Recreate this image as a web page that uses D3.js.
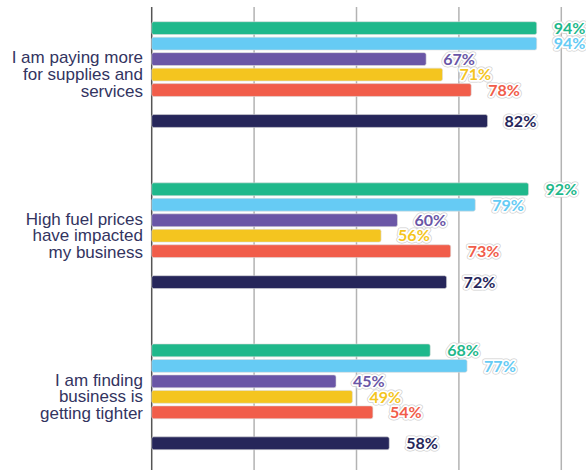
<!DOCTYPE html>
<html>
<head>
<meta charset="utf-8">
<script src="https://cdn.jsdelivr.net/npm/d3@7"></script>
<style>
  body { margin: 0; background: #fff; }
</style>
</head>
<body>
<div class="chart"></div>
<script>
var width = 586;
var height = 470;

// statements (y groups), each split into lines
var categories = [
  ["I am paying more", "for supplies and", "services"],
  ["High fuel prices", "have impacted", "my business"],
  ["I am finding", "business is", "getting tighter"]
];

// series shown in each group, top to bottom (slot 5 is left empty)
var seriesKeys = ["s1", "s2", "s3", "s4", "s5", "total"];
var seriesSlots = [0, 1, 2, 3, 4, 6];
var seriesColors = ["#1fb88b", "#66cbf4", "#6a56a6", "#f4c51f", "#f15d4a", "#26265a"];

var s1 = [94, 92, 68];
var s2 = [94, 79, 77];
var s3 = [67, 60, 45];
var s4 = [71, 56, 49];
var s5 = [78, 73, 54];
var total = [82, 72, 58];
var seriesValues = [s1, s2, s3, s4, s5, total];

var xTicks = [0, 25, 50, 75, 100];

var svg = d3.select(".chart").append("svg")
    .attr("width", width)
    .attr("height", height);

var x = d3.scaleLinear()
    .domain([0, 100])
    .range([151.7, 561.3]);

var y = d3.scaleBand()
    .domain(d3.range(categories.length))
    .range([21.7, 449.7])
    .paddingInner(0.344);

var ySlot = d3.scaleBand()
    .domain(d3.range(7))
    .range([0, y.bandwidth()])
    .paddingInner(0.17);

// gridlines
svg.append("g")
  .selectAll("line")
  .data(xTicks)
  .enter().append("line")
    .attr("x1", function(d) { return x(d); })
    .attr("x2", function(d) { return x(d); })
    .attr("y1", 7)
    .attr("y2", height)
    .attr("stroke", function(d) { return d === 0 ? "#555" : "#b3b3b3"; })
    .attr("stroke-width", 1.5);

// flatten to one record per bar
var bars = [];
categories.forEach(function(c, i) {
  seriesKeys.forEach(function(k, j) {
    bars.push({group: i, key: k, slot: seriesSlots[j], color: seriesColors[j], value: seriesValues[j][i]});
  });
});

svg.append("g")
  .selectAll("rect")
  .data(bars)
  .enter().append("rect")
    .attr("x", x(0))
    .attr("y", function(d) { return y(d.group) + ySlot(d.slot); })
    .attr("width", function(d) { return x(d.value) - x(0); })
    .attr("height", ySlot.bandwidth())
    .attr("rx", 2)
    .attr("fill", function(d) { return d.color; })
    .attr("stroke", "#dcdcdc")
    .attr("stroke-width", 0.6);

// value labels with halo
var labels = svg.append("g")
  .selectAll("g")
  .data(bars)
  .enter().append("g")
    .attr("transform", function(d) {
      return "translate(" + (x(d.value) + 17) + "," + (y(d.group) + ySlot(d.slot) + ySlot.bandwidth() / 2) + ")";
    });

labels.append("text")
    .attr("dy", "0.36em")
    .style("font", "bold 16px Lato, sans-serif")
    .attr("fill", "#fff")
    .attr("stroke", "#d0d0d0")
    .attr("stroke-width", 5)
    .attr("stroke-linejoin", "round")
    .text(function(d) { return d.value + "%"; });

labels.append("text")
    .attr("dy", "0.36em")
    .style("font", "bold 16px Lato, sans-serif")
    .attr("fill", function(d) { return d.color; })
    .attr("stroke", "#fff")
    .attr("stroke-width", 3.5)
    .attr("stroke-linejoin", "round")
    .attr("paint-order", "stroke")
    .text(function(d) { return d.value + "%"; });

// category labels
var cat = svg.append("g")
  .selectAll("text")
  .data(categories)
  .enter().append("text")
    .attr("x", 143)
    .attr("y", function(d, i) { return y(i) + y.bandwidth() / 2 - 11.1; })
    .attr("text-anchor", "end")
    .attr("fill", "#33345f")
    .style("font", "17px 'Liberation Sans', Arial, sans-serif");

cat.selectAll("tspan")
  .data(function(d) { return d; })
  .enter().append("tspan")
    .attr("x", 143)
    .attr("dy", function(d, i) { return i === 0 ? 0 : 16.7; })
    .text(function(d) { return d; });
</script>
</body>
</html>
